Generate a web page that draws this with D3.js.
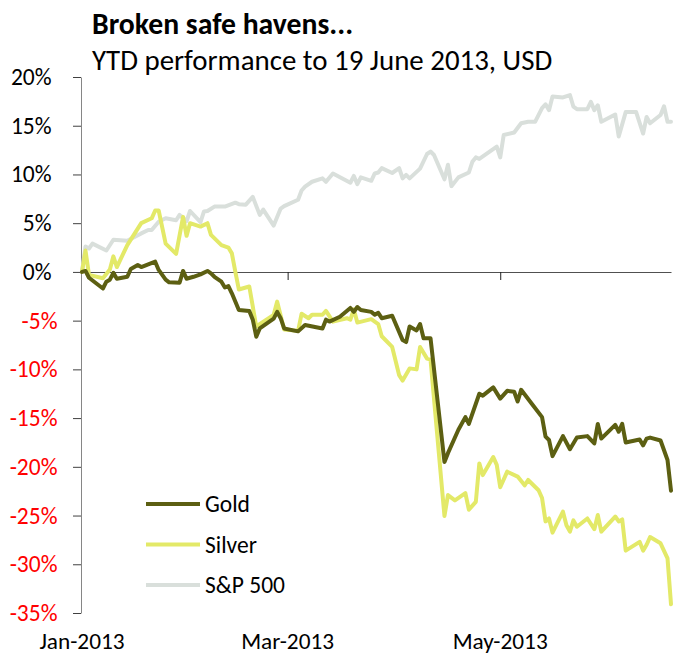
<!DOCTYPE html>
<meta charset="utf-8">
<title>Broken safe havens</title>
<style>
body { margin: 0; background: #fff; }
svg { display: block; font-family: Carlito, Calibri, Lato, sans-serif; }
.title { font-size: 29.7px; font-weight: bold; }
.subtitle { font-size: 28.9px; }
.tick text { font-size: 23.5px; font-family: Carlito, Calibri, Lato, sans-serif; }
.xlabel { font-size: 23.3px; }
.legend text { font-size: 23.5px; }
.line { fill: none; stroke-width: 4px; stroke-linejoin: round; stroke-linecap: round; }
</style>
<body>
<div id="chart"></div>
<script src="https://cdn.jsdelivr.net/npm/d3@7"></script>
<script>
// [days after 1 Jan 2013, YTD % change]
var gold = [[0,0],[1,0.1],[2,-0.6],[6,-1.7],[7,-1.0],[8,-0.8],[9,-0.1],[10,-0.7],[13,-0.5],[14,0.3],[16,0.7],[17,0.5],
  [21,1.05],[22,0.2],[24,-0.8],[25,-1.07],[28,-1.1],[29,0.1],[30,-0.7],[32,-0.5],[34,-0.25],[36,0.1],[37,-0.15],
  [38,-0.5],[40,-1.0],[41,-1.6],[42,-1.45],[43,-2.2],[45,-3.9],[48,-4.0],[49,-4.9],[50,-6.65],[51,-5.8],[55,-4.8],
  [56,-4.1],[57,-4.75],[58,-5.8],[62,-6.1],[64,-5.45],[69,-5.8],[70,-4.9],[71,-5.1],[74,-4.6],[77,-3.7],[78,-4.1],
  [79,-3.6],[80,-3.9],[83,-4.1],[84,-4.4],[85,-4.2],[86,-4.75],[89,-4.5],[92,-7.0],[93,-7.2],[94,-5.6],[96,-6.0],
  [97,-5.35],[98,-6.8],[100,-6.8],[104,-19.5],[105,-18.6],[108,-16.2],[110,-14.9],[111,-15.6],[114,-12.5],
  [115,-12.7],[118,-11.85],[120,-13.0],[122,-12.2],[124,-12.3],[125,-13.3],[126,-12.1],[129,-13.5],[132,-14.9],
  [133,-16.9],[134,-17.25],[135,-18.9],[138,-16.85],[140,-18.2],[142,-17.0],[145,-16.85],[147,-17.6],[148,-15.6],
  [149,-17.1],[153,-15.7],[154,-16.4],[155,-15.6],[156,-17.5],[160,-17.2],[161,-17.8],[162,-17.1],[163,-17.0],
  [166,-17.3],[168,-19.3],[169,-22.45]];

var silver = [[0,0],[1,2.2],[2,-0.3],[6,-0.65],[8,0.25],[9,1.6],[10,0.5],[13,2.75],[17,5.0],[20,5.5],[21,6.3],
  [22,6.3],[24,2.9],[27,1.85],[29,5.65],[30,3.7],[31,5.0],[34,4.65],[36,5.0],[37,3.8],[40,2.75],[42,2.5],[43,1.9],
  [44,0.0],[45,-1.8],[48,-1.5],[50,-5.6],[55,-4.4],[56,-3.05],[58,-5.9],[62,-6.05],[63,-4.3],[65,-4.75],[66,-4.4],
  [69,-4.4],[70,-4.0],[72,-5.1],[76,-4.75],[77,-4.9],[78,-3.85],[79,-5.2],[83,-4.85],[85,-5.35],[86,-6.6],[89,-7.7],
  [91,-10.6],[92,-11.15],[94,-9.9],[96,-10.0],[97,-7.7],[99,-8.9],[100,-9.0],[104,-25.05],[105,-22.9],[107,-23.45],
  [110,-22.7],[111,-24.4],[113,-23.6],[114,-19.65],[115,-20.85],[118,-19.0],[119,-19.8],[120,-22.1],[122,-20.5],
  [125,-21.0],[127,-21.9],[128,-21.35],[131,-22.4],[132,-23.2],[133,-25.6],[134,-25.3],[135,-26.75],[138,-24.6],
  [139,-26.0],[140,-26.65],[141,-25.5],[142,-26.15],[145,-25.3],[147,-26.4],[148,-24.95],[149,-26.65],[153,-25.1],
  [154,-25.6],[155,-25.4],[156,-28.6],[160,-27.7],[161,-28.6],[162,-28.0],[163,-27.2],[166,-27.85],[168,-29.4],
  [169,-34.1]];

var sp500 = [[0,0],[1,2.6],[2,2.4],[3,2.9],[7,2.2],[9,3.3],[13,3.2],[17,3.95],[19,4.3],[20,4.3],[22,5.15],[24,5.5],
  [27,5.3],[28,5.85],[30,5.2],[31,6.25],[34,5.1],[35,6.2],[36,6.25],[38,6.7],[41,6.7],[44,7.1],[45,6.95],[47,6.9],
  [49,7.7],[51,5.85],[52,6.4],[55,4.75],[57,6.5],[58,6.75],[62,7.4],[63,8.35],[64,8.75],[66,9.25],[69,9.6],[70,9.25],
  [72,10.1],[77,9.15],[78,9.85],[79,9.0],[80,9.7],[83,9.35],[84,10.1],[85,10.2],[86,10.65],[89,10.15],[91,10.65],
  [92,9.6],[93,9.95],[94,9.6],[97,10.6],[99,12.1],[100,12.35],[101,12.0],[104,9.5],[105,11.0],[106,8.8],[108,9.7],
  [111,10.2],[112,11.3],[113,11.75],[114,11.6],[119,12.85],[120,11.75],[121,14.05],[124,14.3],[126,15.25],
  [128,15.4],[130,15.4],[132,16.8],[133,17.2],[134,16.6],[135,18.0],[138,17.9],[140,18.15],[141,16.95],[142,16.7],
  [145,16.7],[146,17.45],[147,16.6],[148,17.1],[149,15.4],[153,16.15],[154,13.9],[156,16.4],[159,16.4],[161,14.2],
  [162,15.9],[163,15.25],[166,16.1],[167,17.0],[168,15.4],[169,15.4]];

var seriesNames = ["Gold", "Silver", "S&P 500"];
var seriesColors = ["#5c5f12", "#e3e968", "#d9dfdb"];
var yTicks = [20, 15, 10, 5, 0, -5, -10, -15, -20, -25, -30, -35];
var xLabels = ["2013-01-01", "2013-03-01", "2013-05-01"];

var width = 675, height = 655;
var margin = {top: 77, right: 4, bottom: 42, left: 82};
var start = new Date(2013, 0, 1);
var parse = d3.timeParse("%Y-%m-%d");

var x = d3.scaleTime()
    .domain([start, new Date(2013, 5, 19)])
    .range([margin.left, width - margin.right]);
var y = d3.scaleLinear()
    .domain([-35, 20])
    .range([height - margin.bottom, margin.top]);

var svg = d3.select("#chart").append("svg")
    .attr("width", width)
    .attr("height", height);

svg.append("text").attr("class", "title")
    .attr("x", 92).attr("y", 34)
    .text("Broken safe havens...");
svg.append("text").attr("class", "subtitle")
    .attr("x", 92).attr("y", 70)
    .text("YTD performance to 19 June 2013, USD");

// y axis
var yAxis = svg.append("g")
    .attr("transform", "translate(" + (margin.left - 1) + ",0)")
    .call(d3.axisLeft(y).tickValues(yTicks).tickSize(8).tickSizeOuter(0)
      .tickFormat(function(d) { return d + "%"; }));
yAxis.select(".domain").attr("stroke", "#868686");
yAxis.selectAll(".tick line").attr("stroke", "#404040");
yAxis.selectAll(".tick text")
    .attr("x", function(d) { return d < 0 ? -23.5 : -29.5; })
    .attr("fill", function(d) { return d < 0 ? "#ff0000" : "#000"; });

// zero line with month ticks
var xAxis = svg.append("g")
    .attr("transform", "translate(0," + Math.round(y(0)) + ")")
    .call(d3.axisBottom(x).tickValues(xLabels.slice(1).map(parse)).tickSize(8).tickSizeOuter(0).tickFormat(""));
xAxis.select(".domain").attr("stroke", "#505050");
xAxis.selectAll(".tick line").attr("stroke", "#202020");

svg.selectAll(".xlabel")
    .data(xLabels)
  .enter().append("text")
    .attr("class", "xlabel")
    .attr("x", function(d) { return x(parse(d)); })
    .attr("y", 649)
    .attr("text-anchor", "middle")
    .text(function(d) { return d3.timeFormat("%b-%Y")(parse(d)); });

var line = d3.line()
    .x(function(d) { return x(d3.timeDay.offset(start, d[0])); })
    .y(function(d) { return y(d[1]); });

var data = [gold, silver, sp500];
[2, 1, 0].forEach(function(i) {
  svg.append("path")
      .datum(data[i])
      .attr("class", "line")
      .attr("stroke", seriesColors[i])
      .attr("d", line);
});

// legend
var legend = svg.append("g").attr("class", "legend")
    .selectAll("g")
    .data(seriesNames)
  .enter().append("g")
    .attr("transform", function(d, i) { return "translate(146," + (504 + i * 40.5) + ")"; });
legend.append("line")
    .attr("x1", 0).attr("x2", 54)
    .attr("stroke", function(d, i) { return seriesColors[i]; })
    .attr("stroke-width", 4);
legend.append("text")
    .attr("x", 59)
    .attr("dy", "0.36em")
    .text(function(d) { return d; });
</script>
</body>
